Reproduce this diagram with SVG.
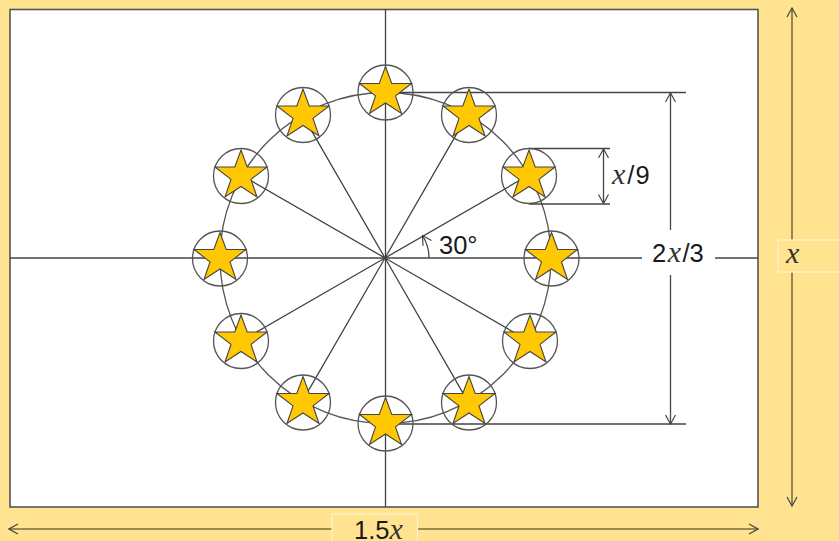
<svg xmlns="http://www.w3.org/2000/svg" width="839" height="541" viewBox="0 0 839 541">
<style>
.l{stroke:#444;stroke-width:1.3;fill:none}
.d{stroke:#7d6c3f;stroke-width:1.6;fill:none}
.c{stroke:#555;stroke-width:1.3;fill:none}
.t{font-family:"Liberation Sans",Arial,sans-serif;font-size:25.500px;fill:#1a1a1a}
.i{font-family:"Liberation Serif","Times New Roman",serif;font-style:italic;font-size:30px;fill:#333}
.b{fill:#ffe390;stroke:#fff3cf;stroke-width:1.2}
</style>
<defs>
<polygon id="s" points="0,-26 6.2,-9 26,-9 10,3.4 16,21 0,10.5 -16,21 -10,3.4 -26,-9 -6.2,-9" fill="#ffc800" stroke="#444" stroke-width="1.100"/>
<marker id="a" viewBox="-11 -6 12 12" markerWidth="12" markerHeight="12" markerUnits="userSpaceOnUse" refX="0" refY="0" orient="auto-start-reverse"><path d="M-9,-5 L0,0 L-9,5" fill="none" stroke="#444" stroke-width="1.200"/></marker>
</defs>
<rect width="839" height="541" fill="#ffe390"/>
<rect id="flag" x="10" y="9.500" width="748" height="497.500" fill="#fff" stroke="#555" stroke-width="1.600"/>
<g id="connectors">
<path class="l" d="M10 258H642M715 258H758M385.500 9.500V507"/>
<path class="l" d="M385 258L302.500 115.100M385 258L467.500 115.100M385 258L528 175.500M385 258L242 175.500M385 258L242 340.500M385 258L528 340.500M385 258L302.500 400.900M385 258L467.500 400.900"/>
<circle class="c" cx="385.500" cy="258" r="165.500"/>
<path class="l" d="M386 92.500H686M386 424H686M529 148.500H610M529 204H610"/>
<path class="l" marker-start="url(#a)" d="M670.500 93V230"/>
<path class="l" marker-end="url(#a)" d="M670.500 275V424"/>
<path class="l" marker-start="url(#a)" marker-end="url(#a)" d="M603.500 149V203.500"/>
<path class="l" marker-end="url(#a)" d="M429 258Q429 246 422.500 235.500"/>
<path class="d" marker-start="url(#a)" d="M792 8V240"/>
<path class="d" marker-end="url(#a)" d="M792 272V506"/>
<path class="d" marker-start="url(#a)" d="M9 529H332"/>
<path class="d" marker-end="url(#a)" d="M418 529H758"/>
</g>
<g id="star-0"><circle class="c" cx="385.500" cy="92.500" r="27.500"/><use href="#s" x="385.500" y="92.500"/></g>
<g id="star-1"><circle class="c" cx="469" cy="115" r="27.500"/><use href="#s" x="469" y="115"/></g>
<g id="star-2"><circle class="c" cx="529" cy="176" r="27.500"/><use href="#s" x="529" y="176"/></g>
<g id="star-3"><circle class="c" cx="551.500" cy="258.500" r="27.500"/><use href="#s" x="551.500" y="258.500"/></g>
<g id="star-4"><circle class="c" cx="530" cy="341" r="27.500"/><use href="#s" x="530" y="341"/></g>
<g id="star-5"><circle class="c" cx="469" cy="402.500" r="27.500"/><use href="#s" x="469" y="402.500"/></g>
<g id="star-6"><circle class="c" cx="385.500" cy="423.500" r="27.500"/><use href="#s" x="385.500" y="423.500"/></g>
<g id="star-7"><circle class="c" cx="303" cy="402.500" r="27.500"/><use href="#s" x="303" y="402.500"/></g>
<g id="star-8"><circle class="c" cx="241" cy="341" r="27.500"/><use href="#s" x="241" y="341"/></g>
<g id="star-9"><circle class="c" cx="220" cy="258.500" r="27.500"/><use href="#s" x="220" y="258.500"/></g>
<g id="star-10"><circle class="c" cx="241" cy="176" r="27.500"/><use href="#s" x="241" y="176"/></g>
<g id="star-11"><circle class="c" cx="303" cy="115" r="27.500"/><use href="#s" x="303" y="115"/></g>
<g id="labels">
<text class="t" x="439" y="254">30°</text>
<text class="t" x="612" y="184"><tspan class="i">x</tspan><tspan dx="2">/</tspan><tspan dx="1">9</tspan></text>
<text class="t" x="652" y="262">2<tspan class="i" dx="1.500">x</tspan><tspan dx="1.500">/3</tspan></text>
<rect class="b" x="778" y="240" width="70" height="32"/>
<text class="t i" x="786" y="263">x</text>
<rect class="b" x="332" y="514" width="85.500" height="40"/>
<text class="t" x="354" y="539">1.5<tspan class="i">x</tspan></text>
</g>
</svg>
